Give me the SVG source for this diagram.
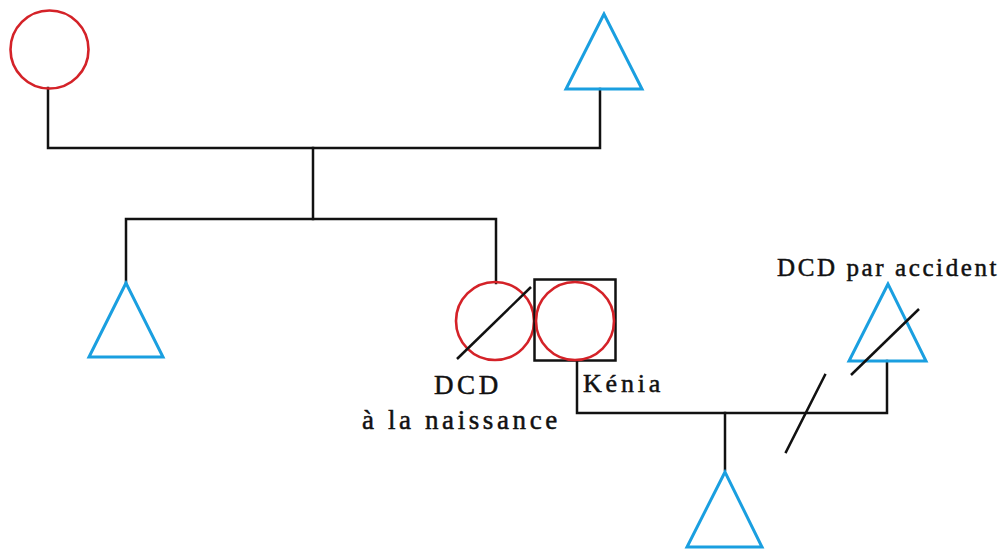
<svg xmlns="http://www.w3.org/2000/svg" width="1007" height="552" viewBox="0 0 1007 552">
<style>
.line{fill:none;stroke:#111;stroke-width:2.5;stroke-linecap:square}
.f{fill:none;stroke:#d42228;stroke-width:2.6}
.m{fill:none;stroke:#1a9fe0;stroke-width:3;stroke-linejoin:miter}
.t{font-family:"Liberation Serif","Times New Roman",serif;fill:#111;stroke:#111;stroke-width:0.5}
</style>
<rect width="1007" height="552" fill="#fff"/>
<g id="connectors">
<polyline class="line" points="48,88 48,148 600,148 600,89"/>
<line class="line" x1="313" y1="148" x2="313" y2="219"/>
<polyline class="line" points="126,283 126,219 496,219 496,283"/>
<polyline class="line" points="577,361 577,413 887,413 887,361"/>
<line class="line" x1="725" y1="413" x2="725" y2="470"/>
<line class="line" x1="825" y1="375" x2="786" y2="452"/>
</g>
<g id="grandmother"><circle class="f" cx="49.5" cy="49.5" r="39"/></g>
<g id="grandfather"><polygon class="m" points="604,14 566,89 642,89"/></g>
<g id="uncle"><polygon class="m" points="126,283 89,357 163,357"/></g>
<g id="twin-deceased">
<circle class="f" cx="495" cy="321" r="39"/>
<line class="line" x1="457" y1="359" x2="531" y2="287" style="stroke-linecap:butt"/>
<text class="t" x="434" y="394" font-size="27" letter-spacing="3.6">DCD</text>
<text class="t" x="362" y="429" font-size="27" letter-spacing="3.6">à la naissance</text>
</g>
<g id="kenia">
<rect x="534.5" y="279.5" width="81" height="81" fill="none" stroke="#111" stroke-width="2.5"/>
<circle class="f" cx="575" cy="321" r="39"/>
<text class="t" x="583" y="392" font-size="26" letter-spacing="3.8">Kénia</text>
</g>
<g id="partner">
<polygon class="m" points="888,284 849,361 926,361"/>
<line class="line" x1="851" y1="375" x2="919" y2="309" style="stroke-linecap:butt"/>
<text class="t" x="777" y="276" font-size="25" letter-spacing="2.6">DCD par accident</text>
</g>
<g id="child"><polygon class="m" points="725,472 687,547 762,547"/></g>
</svg>
